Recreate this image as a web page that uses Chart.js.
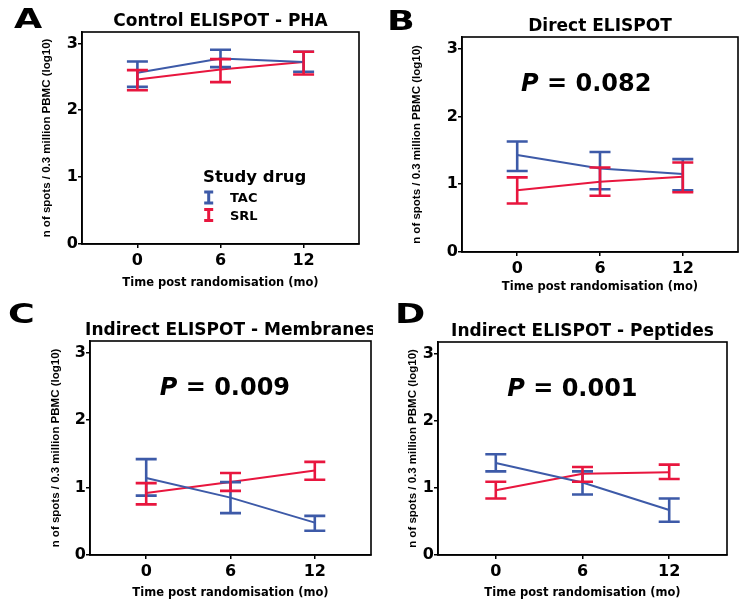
<!DOCTYPE html>
<html><head><meta charset="utf-8">
<script src="https://cdn.jsdelivr.net/npm/chart.js@4.4.1/dist/chart.umd.min.js"></script>
<style>
html,body{margin:0;padding:0;background:#fff;overflow:hidden;}
#wrap{position:relative;width:747px;height:607px;background:#fff;}
.panel{position:absolute;}
canvas{display:block;}
</style></head><body><div id="wrap">
<div class="panel" style="left:0px;top:0px;"><canvas id="cA" width="373" height="300"></canvas></div>
<div class="panel" style="left:373px;top:0px;"><canvas id="cB" width="374" height="300"></canvas></div>
<div class="panel" style="left:0px;top:300px;"><canvas id="cC" width="373" height="307"></canvas></div>
<div class="panel" style="left:373px;top:300px;"><canvas id="cD" width="374" height="307"></canvas></div>
</div>
<script>
// ---------------- data ----------------
const months = [0, 6, 12];
const xTickValues = [0, 6, 12];
const yTickValues = [0, 1, 2, 3];
const seriesLabels = ['TAC', 'SRL'];
const panelLetters = ['A', 'B', 'C', 'D'];
const panelTitles = ['Control ELISPOT - PHA', 'Direct ELISPOT', 'Indirect ELISPOT - Membranes', 'Indirect ELISPOT - Peptides'];
const pValues = ['', '0.082', '0.009', '0.001'];
const legendTitle = 'Study drug';
const yAxisTitle = 'n of spots / 0.3 million PBMC (log10)';
const xAxisTitle = 'Time post randomisation (mo)';

// Panel A
const tacMeanA  = [2.56, 2.775, 2.72];
const tacUpperA = [2.73, 2.905, 2.875];
const tacLowerA = [2.35, 2.645, 2.575];
const srlMeanA  = [2.46, 2.61, 2.72];
const srlUpperA = [2.60, 2.765, 2.875];
const srlLowerA = [2.30, 2.42, 2.535];
// Panel B
const tacMeanB  = [1.43, 1.23, 1.15];
const tacUpperB = [1.63, 1.475, 1.37];
const tacLowerB = [1.195, 0.925, 0.91];
const srlMeanB  = [0.91, 1.035, 1.11];
const srlUpperB = [1.10, 1.245, 1.32];
const srlLowerB = [0.715, 0.83, 0.88];
// Panel C
const tacMeanC  = [1.14, 0.85, 0.48];
const tacUpperC = [1.42, 1.08, 0.58];
const tacLowerC = [0.88, 0.62, 0.36];
const srlMeanC  = [0.92, 1.08, 1.25];
const srlUpperC = [1.065, 1.215, 1.38];
const srlLowerC = [0.75, 0.95, 1.115];
// Panel D
const tacMeanD  = [1.37, 1.08, 0.67];
const tacUpperD = [1.50, 1.245, 0.84];
const tacLowerD = [1.245, 0.90, 0.495];
const srlMeanD  = [0.965, 1.21, 1.23];
const srlUpperD = [1.09, 1.31, 1.345];
const srlLowerD = [0.84, 1.09, 1.13];

// ---------------- style ----------------
const BLUE = '#3d5aa8';
const RED = '#e8163e';
const FONT = '"DejaVu Sans", sans-serif';

const decorPlugin = {
  id: 'decor',
  afterDatasetsDraw(chart) {
    const ctx = chart.ctx, xs = chart.scales.x, ys = chart.scales.y;
    chart.data.datasets.forEach(ds => {
      ctx.save();
      ctx.strokeStyle = ds.borderColor;
      ctx.lineWidth = 2.6;
      ds.data.forEach((pt, j) => {
        const x = xs.getPixelForValue(pt.x);
        const yh = ys.getPixelForValue(ds.errUpper[j]);
        const yl = ys.getPixelForValue(ds.errLower[j]);
        ctx.beginPath();
        ctx.moveTo(x, yh); ctx.lineTo(x, yl);
        ctx.moveTo(x - 10.5, yh); ctx.lineTo(x + 10.5, yh);
        ctx.moveTo(x - 10.5, yl); ctx.lineTo(x + 10.5, yl);
        ctx.stroke();
      });
      ctx.restore();
    });
  },
  afterDraw(chart, args, o) {
    const ctx = chart.ctx, ca = chart.chartArea, xs = chart.scales.x, ys = chart.scales.y;
    ctx.save();
    // frame
    ctx.strokeStyle = '#000'; ctx.lineWidth = 1.6;
    ctx.strokeRect(ca.left, ca.top, ca.right - ca.left, ca.bottom - ca.top);
    // title
    ctx.fillStyle = '#000';
    ctx.textAlign = 'center'; ctx.textBaseline = 'alphabetic';
    ctx.font = 'bold 17px ' + FONT;
    ctx.fillText(o.title, (ca.left + ca.right) / 2, ca.top - 6.3);
    // panel letter
    ctx.save();
    ctx.translate(o.letterX, o.letterY);
    ctx.scale(1.35, 1);
    ctx.font = 'bold 27px ' + FONT;
    ctx.textAlign = 'left';
    ctx.fillText(o.letter, 0, 0);
    ctx.restore();
    // P value
    if (o.pText) {
      const cx = xs.getPixelForValue(o.pX), cy = ys.getPixelForValue(o.pY);
      const f1 = 'italic bold 24px ' + FONT, f2 = 'bold 24px ' + FONT;
      const rest = ' = ' + o.pText;
      ctx.font = f1; const w1 = ctx.measureText('P').width;
      ctx.font = f2; const w2 = ctx.measureText(rest).width;
      const x0 = cx - (w1 + w2) / 2, base = cy + 8.7;
      ctx.textAlign = 'left';
      ctx.font = f1; ctx.fillText('P', x0, base);
      ctx.font = f2; ctx.fillText(rest, x0 + w1, base);
    }
    // legend
    if (o.legend) {
      const lx = ca.left, ly = ca.top;
      ctx.textAlign = 'left';
      ctx.font = 'bold 16.5px ' + FONT;
      ctx.fillText(legendTitle, lx + 121, ly + 149.7);
      const rows = [165.5, 183];
      chart.data.datasets.forEach((ds, i) => {
        const icx = lx + 126.7, icy = ly + rows[i];
        ctx.strokeStyle = ds.borderColor; ctx.lineWidth = 3;
        ctx.beginPath();
        ctx.moveTo(icx, icy - 5.5); ctx.lineTo(icx, icy + 5.5);
        ctx.moveTo(icx - 4.5, icy - 5.5); ctx.lineTo(icx + 4.5, icy - 5.5);
        ctx.moveTo(icx - 4.5, icy + 5.5); ctx.lineTo(icx + 4.5, icy + 5.5);
        ctx.stroke();
        ctx.fillStyle = '#000';
        ctx.font = 'bold 13px ' + FONT;
        ctx.fillText(ds.label, lx + 148, icy + 4.9);
      });
    }
    ctx.restore();
  }
};

function makePanel(id, idx, box, series, extra) {
  const yTitleFont = { family: '"Liberation Sans", Arial, sans-serif', size: 11.5, weight: 'bold', lineHeight: 1 };
  const xTitleFont = { family: FONT, size: 11.5, weight: 'bold', lineHeight: 1 };
  const yTitleLeft = box.yTitleCx - 5.75;
  const yW = box.L - yTitleLeft;
  const xH = box.xTitleCy - box.B + 5.75;
  const padding = {
    left: yTitleLeft - box.cl,
    top: box.T - box.ct,
    right: box.cl + box.cw - box.R,
    bottom: box.ct + box.ch - (box.B + xH)
  };
  const datasets = series.map((s, i) => ({
    label: seriesLabels[i],
    data: months.map((m, j) => ({ x: m, y: s.mean[j] })),
    errUpper: s.upper,
    errLower: s.lower,
    borderColor: i === 0 ? BLUE : RED,
    backgroundColor: i === 0 ? BLUE : RED,
    borderWidth: 2,
    pointRadius: 0,
    tension: 0,
    fill: false
  }));
  new Chart(document.getElementById(id), {
    type: 'line',
    data: { datasets },
    options: {
      responsive: false,
      animation: false,
      layout: { padding },
      plugins: {
        legend: { display: false },
        title: { display: false },
        tooltip: { enabled: false },
        decor: Object.assign({ title: panelTitles[idx], letter: panelLetters[idx], pText: pValues[idx] }, extra)
      },
      scales: {
        x: {
          type: 'linear', min: -4, max: 16,
          afterBuildTicks: s => { s.ticks = xTickValues.map(v => ({ value: v })); },
          afterFit: s => { s.height = xH; },
          grid: { display: true, drawOnChartArea: false, drawTicks: true, tickLength: 4, color: '#000', lineWidth: 1.5 },
          border: { display: true, color: '#000', width: 1.6 },
          ticks: { color: '#000', font: { family: FONT, size: 16, weight: 'bold', lineHeight: 1.2 }, padding: 3, maxRotation: 0 },
          title: { display: true, text: xAxisTitle, color: '#000', font: xTitleFont, padding: 0 }
        },
        y: {
          type: 'linear', min: 0, max: 3.17,
          afterBuildTicks: s => { s.ticks = yTickValues.map(v => ({ value: v })); },
          afterFit: s => { s.width = yW; },
          grid: { display: true, drawOnChartArea: false, drawTicks: true, tickLength: 4, color: '#000', lineWidth: 1.5 },
          border: { display: true, color: '#000', width: 1.6 },
          ticks: { color: '#000', font: { family: FONT, size: 16, weight: 'bold' }, padding: 0 },
          title: { display: true, text: yAxisTitle, color: '#000', font: yTitleFont, padding: 0 }
        }
      }
    },
    plugins: [decorPlugin]
  });
}

makePanel('cA', 0,
  { cl: 0, ct: 0, cw: 373, ch: 300, L: 82, T: 32, R: 359, B: 244, yTitleCx: 47, xTitleCy: 283 },
  [{ mean: tacMeanA, upper: tacUpperA, lower: tacLowerA }, { mean: srlMeanA, upper: srlUpperA, lower: srlLowerA }],
  { letterX: 14, letterY: 28, legend: true });
makePanel('cB', 1,
  { cl: 373, ct: 0, cw: 374, ch: 300, L: 462, T: 37, R: 738, B: 252, yTitleCx: 417, xTitleCy: 287 },
  [{ mean: tacMeanB, upper: tacUpperB, lower: tacLowerB }, { mean: srlMeanB, upper: srlUpperB, lower: srlLowerB }],
  { letterX: 14, letterY: 30, pX: 5.0, pY: 2.5 });
makePanel('cC', 2,
  { cl: 0, ct: 300, cw: 373, ch: 307, L: 90, T: 341, R: 371, B: 555, yTitleCx: 56, xTitleCy: 593 },
  [{ mean: tacMeanC, upper: tacUpperC, lower: tacLowerC }, { mean: srlMeanC, upper: srlUpperC, lower: srlLowerC }],
  { letterX: 8, letterY: 23, pX: 5.6, pY: 2.5 });
makePanel('cD', 3,
  { cl: 373, ct: 300, cw: 374, ch: 307, L: 438, T: 342, R: 727, B: 555, yTitleCx: 412.5, xTitleCy: 593 },
  [{ mean: tacMeanD, upper: tacUpperD, lower: tacLowerD }, { mean: srlMeanD, upper: srlUpperD, lower: srlLowerD }],
  { letterX: 22, letterY: 23, pX: 5.3, pY: 2.5 });
</script>
</body></html>
